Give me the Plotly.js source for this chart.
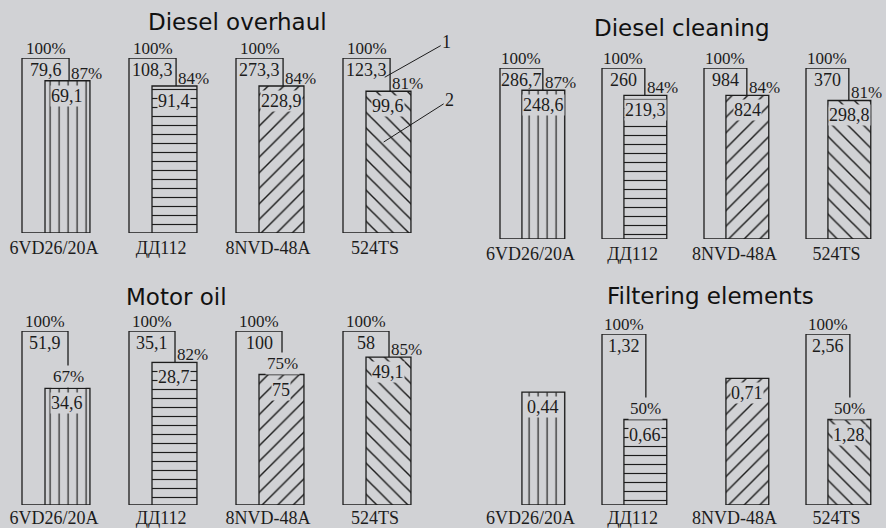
<!DOCTYPE html>
<html>
<head>
<meta charset="utf-8">
<script src="https://cdn.plot.ly/plotly-3.0.1.min.js"></script>
<style>
  html, body { margin: 0; padding: 0; background: #d1d2d5; }
  #plot { width: 886px; height: 528px; }
</style>
</head>
<body>
<div id="plot"></div>
<script>
const categories = ["6VD26/20A", "ДД112", "8NVD-48A", "524TS"];
const hatches = ["|", "-", "/", "\\"];

const overhaulBase = [79.6, 108.3, 273.3, 123.3];
const overhaulNew = [69.1, 91.4, 228.9, 99.6];
const overhaulPct = [87, 84, 84, 81];

const cleaningBase = [286.7, 260, 984, 370];
const cleaningNew = [248.6, 219.3, 824, 298.8];
const cleaningPct = [87, 84, 84, 81];

const oilBase = [51.9, 35.1, 100, 58];
const oilNew = [34.6, 28.7, 75, 49.1];
const oilPct = [67, 82, 75, 85];

const filterBase = [null, 1.32, null, 2.56];
const filterNew = [0.44, 0.66, 0.71, 1.28];
const filterPct = [null, 50, null, 50];
// bars with no base value: drawn height (%)
const filterSingleHeight = [66, null, 74, null];

const W = 886, H = 528;
const bg = "#d1d2d5";
const ink = "#1c1c1c";
const serif = "Liberation Serif, serif";
const XR = [-0.2, 3.7];
const IN_OFF = 0.215, IN_W = 0.42;

const panels = [
    { title: "Diesel overhaul", base: overhaulBase, next: overhaulNew, pct: overhaulPct, single: [],
      x0: 22, unit: 107, outW: 0.44, bottom: 233, top: 58, tx: 237, ty: 22, standoff: 2 },
    { title: "Diesel cleaning", base: cleaningBase, next: cleaningNew, pct: cleaningPct, single: [],
      x0: 500, unit: 102, outW: 0.42, bottom: 239, top: 68, tx: 682, ty: 28, standoff: 2 },
    { title: "Motor oil", base: oilBase, next: oilNew, pct: oilPct, single: [],
      x0: 22, unit: 107, outW: 0.43, bottom: 505, top: 331, tx: 176, ty: 297, standoff: 0 },
    { title: "Filtering elements", base: filterBase, next: filterNew, pct: filterPct, single: filterSingleHeight,
      x0: 500, unit: 102, outW: 0.43, bottom: 505, top: 334, tx: 710, ty: 296, standoff: 0 }
];

const fmt = v => String(v).replace(".", ",");

let data = [];
let annotations = [];
let layout = {
    width: W,
    height: H,
    margin: { l: 0, r: 0, t: 0, b: 0 },
    paper_bgcolor: bg,
    plot_bgcolor: bg,
    showlegend: false,
    barmode: "overlay",
    font: { family: serif, color: ink }
};

panels.forEach((p, k) => {
    const n = k === 0 ? "" : String(k + 1);
    const xa = "x" + n, ya = "y" + n;
    const xs = categories.map((c, i) => i);
    const outerY = p.base.map(v => (v === null ? null : 100));
    const innerY = p.pct.map((v, i) => (v === null ? p.single[i] : v));
    const OUT_W = p.outW;

    layout["xaxis" + n] = {
        domain: [(p.x0 + XR[0] * p.unit) / W, (p.x0 + XR[1] * p.unit) / W],
        range: XR,
        anchor: ya,
        showgrid: false, zeroline: false, showline: false, ticks: "",
        tickmode: "array",
        tickvals: xs.map(i => i + 0.3),
        ticktext: categories,
        tickfont: { family: serif, size: 18, color: ink },
        ticklabelstandoff: p.standoff
    };
    layout["yaxis" + n] = {
        domain: [(H - p.bottom) / H, (H - p.top) / H],
        range: [0, 100],
        anchor: xa,
        visible: false
    };

    data.push({
        type: "bar", xaxis: xa, yaxis: ya,
        x: xs, y: outerY,
        offset: 0, width: OUT_W,
        marker: { color: bg, line: { color: ink, width: 1.3 } },
        hoverinfo: "skip"
    });
    data.push({
        type: "bar", xaxis: xa, yaxis: ya,
        x: xs, y: innerY,
        offset: IN_OFF, width: IN_W,
        marker: {
            color: bg,
            line: { color: ink, width: 1.3 },
            pattern: {
                shape: hatches,
                size: [9, 9, 11, 11],
                solidity: 0.13,
                fgcolor: ink,
                bgcolor: bg
            }
        },
        hoverinfo: "skip"
    });

    annotations.push({
        xref: "paper", yref: "paper",
        x: p.tx / W, y: 1 - p.ty / H,
        xanchor: "center", yanchor: "middle",
        text: p.title, showarrow: false,
        font: { family: "DejaVu Sans", size: 23, color: "#111" }
    });

    xs.forEach(i => {
        if (p.base[i] !== null) {
            annotations.push({
                xref: xa, yref: ya, x: i + OUT_W / 2, y: 100,
                text: "100%", showarrow: false, yanchor: "bottom", yshift: -2,
                font: { family: serif, size: 17, color: ink }
            });
            annotations.push({
                xref: xa, yref: ya, x: i + OUT_W / 2, y: 100,
                text: fmt(p.base[i]), showarrow: false, yanchor: "top", yshift: 0,
                font: { family: serif, size: 18, color: ink }
            });
        }
        if (p.pct[i] !== null) {
            const wide = p.pct[i] < 80;
            annotations.push({
                xref: xa, yref: ya, x: i + OUT_W, y: p.pct[i],
                text: p.pct[i] + "%", showarrow: false,
                xanchor: wide ? "center" : "left",
                xshift: 0,
                yanchor: "bottom", yshift: wide ? 0 : -4,
                bgcolor: wide ? bg : "rgba(0,0,0,0)",
                font: { family: serif, size: 17, color: ink }
            });
        }
        annotations.push({
            xref: xa, yref: ya, x: i + IN_OFF + IN_W / 2, y: innerY[i],
            text: fmt(p.next[i]), showarrow: false, yanchor: "top", yshift: -4,
            bgcolor: bg, borderpad: 0,
            font: { family: serif, size: 18, color: ink }
        });
    });
});

// leader lines: 1 = base bar, 2 = new bar (Diesel overhaul, 524TS)
annotations.push({
    xref: "x", yref: "y", x: 3 + 0.39, y: 89,
    text: "1", showarrow: true, arrowhead: 0, arrowwidth: 1, arrowcolor: ink,
    ax: 62, ay: -35,
    font: { family: serif, size: 18, color: ink }
});
annotations.push({
    xref: "x", yref: "y", x: 3 + 0.38, y: 52,
    text: "2", showarrow: true, arrowhead: 0, arrowwidth: 1, arrowcolor: ink,
    ax: 66, ay: -42,
    font: { family: serif, size: 18, color: ink }
});

layout.annotations = annotations;

let config = { responsive: false, displayModeBar: false, staticPlot: true };

window.addEventListener("load", () => {
    Plotly.newPlot("plot", data, layout, config);
});
</script>
</body>
</html>
